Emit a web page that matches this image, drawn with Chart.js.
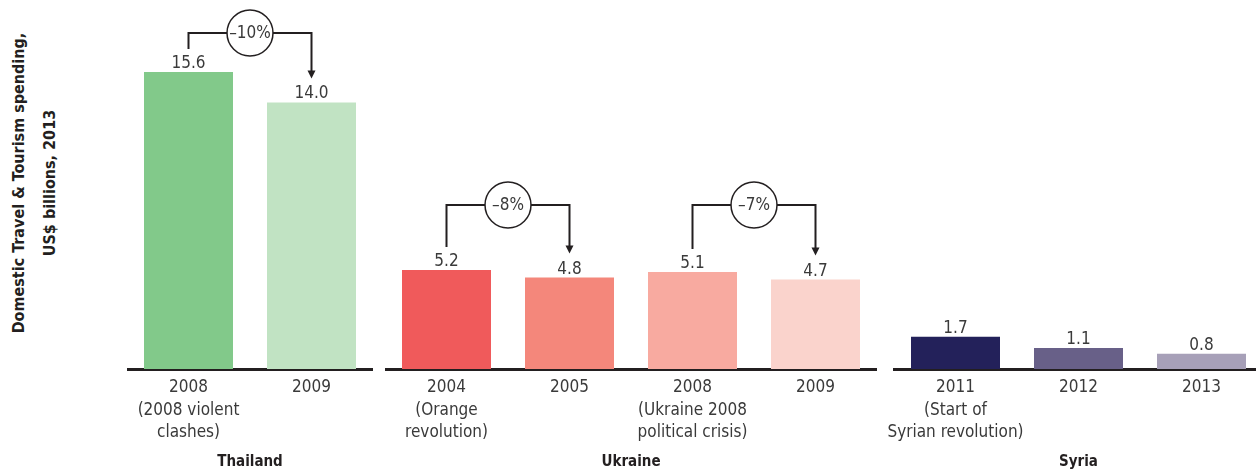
<!DOCTYPE html>
<html>
<head>
<meta charset="utf-8">
<script src="https://cdn.jsdelivr.net/npm/chart.js@4.4.0/dist/chart.umd.min.js"></script>
<style>
  html, body { margin: 0; padding: 0; width: 1256px; height: 473px; overflow: hidden; background: #fff; }
  .box { position: absolute; top: 0; height: 473px; }
  #ytitle {
    position: absolute; left: 34px; top: 183px;
    transform: translate(-50%, -50%) rotate(-90deg);
    white-space: nowrap; text-align: center;
    font: bold 16px/31px "DejaVu Sans Condensed", "Liberation Sans", sans-serif;
    color: #231f20;
  }
</style>
</head>
<body>
<div id="ytitle">Domestic Travel &amp; Tourism spending,<br>US$ billions, 2013</div>
<div class="box" style="left:127px;width:246px"><canvas id="thai"></canvas></div>
<div class="box" style="left:385px;width:492px"><canvas id="ukr"></canvas></div>
<div class="box" style="left:870px;width:393px"><canvas id="syr"></canvas></div>
<script>
const thaiYears = [['2008', '(2008 violent', 'clashes)'], '2009'];
const thaiValues = [15.6, 14.0];
const thaiChanges = ['–10%'];

const ukrYears = [['2004', '(Orange', 'revolution)'], '2005', ['2008', '(Ukraine 2008', 'political crisis)'], '2009'];
const ukrValues = [5.2, 4.8, 5.1, 4.7];
const ukrChanges = ['–8%', '–7%'];

const syrYears = [['2011', '(Start of', 'Syrian revolution)'], '2012', '2013'];
const syrValues = [1.7, 1.1, 0.8];

const FONT = '"DejaVu Sans Condensed", "Liberation Sans", sans-serif';
const INK = '#231f20';
const GREY = '#3a3a3a';

// value labels above bars + change brackets
const marks = {
  id: 'marks',
  afterDatasetsDraw(chart, args, opts) {
    const ctx = chart.ctx;
    const bars = chart.getDatasetMeta(0).data;
    const vals = chart.data.datasets[0].data;
    ctx.save();
    ctx.font = '17px ' + FONT;
    ctx.textAlign = 'center';
    ctx.textBaseline = 'alphabetic';
    ctx.fillStyle = GREY;
    bars.forEach((b, i) => ctx.fillText(vals[i].toFixed(1), b.x, b.y - 4));

    (opts.brackets || []).forEach(br => {
      const a = bars[br.from], c = bars[br.to];
      const y = opts.lineY;
      ctx.strokeStyle = INK;
      ctx.lineWidth = 2;
      ctx.beginPath();
      ctx.moveTo(a.x, a.y - 23);
      ctx.lineTo(a.x, y);
      ctx.lineTo(c.x, y);
      ctx.lineTo(c.x, c.y - 31);
      ctx.stroke();
      ctx.fillStyle = INK;
      ctx.beginPath();
      ctx.moveTo(c.x - 4, c.y - 32);
      ctx.lineTo(c.x + 4, c.y - 32);
      ctx.lineTo(c.x, c.y - 24);
      ctx.closePath();
      ctx.fill();
      const cx = (a.x + c.x) / 2;
      ctx.beginPath();
      ctx.arc(cx, y, 23, 0, Math.PI * 2);
      ctx.fillStyle = '#fff';
      ctx.fill();
      ctx.lineWidth = 1.5;
      ctx.stroke();
      ctx.fillStyle = GREY;
      ctx.textBaseline = 'middle';
      ctx.fillText(br.label, cx, y + 1);
      ctx.textBaseline = 'alphabetic';
    });
    ctx.restore();
  }
};

function makeChart(id, labels, values, colors, group, brackets, lineY, padLeft) {
  return new Chart(document.getElementById(id), {
    type: 'bar',
    data: {
      labels: labels,
      datasets: [{
        data: values,
        backgroundColor: colors,
        borderWidth: 0,
        barPercentage: 89 / 123,
        categoryPercentage: 1
      }]
    },
    options: {
      responsive: true,
      maintainAspectRatio: false,
      animation: false,
      layout: { padding: { left: padLeft, right: 0, top: 0, bottom: 0 } },
      plugins: {
        legend: { display: false },
        tooltip: { enabled: false },
        marks: { brackets: brackets, lineY: lineY }
      },
      scales: {
        x: {
          z: 1,
          grid: { display: false, drawTicks: false },
          border: { display: true, color: INK, width: 3 },
          ticks: { color: GREY, padding: 8, maxRotation: 0, autoSkip: false,
                   font: { family: FONT, size: 17, lineHeight: 1.3 } },
          title: { display: true, text: group, color: INK, padding: { top: 0, bottom: 1 },
                   font: { family: FONT, size: 15, weight: 'bold', lineHeight: 1.3 } },
          afterFit(scale) {
            // keep the axis exactly under its bars, labels may overhang
            scale.height = 104;
            scale.paddingLeft = 0;
            scale.paddingRight = 0;
          }
        },
        y: { display: false, min: 0, max: 19.38 }
      }
    },
    plugins: [marks]
  });
}

makeChart('thai', thaiYears, thaiValues, ['#82c98a', '#c1e3c3'], 'Thailand',
  [{ from: 0, to: 1, label: thaiChanges[0] }], 33, 0);
makeChart('ukr', ukrYears, ukrValues, ['#f05a5b', '#f4877b', '#f8aaa0', '#fad3cc'], 'Ukraine',
  [{ from: 0, to: 1, label: ukrChanges[0] }, { from: 2, to: 3, label: ukrChanges[1] }], 205, 0);
makeChart('syr', syrYears, syrValues, ['#23215a', '#686088', '#a7a0b8'], 'Syria', [], 0, 24);
</script>
</body>
</html>
